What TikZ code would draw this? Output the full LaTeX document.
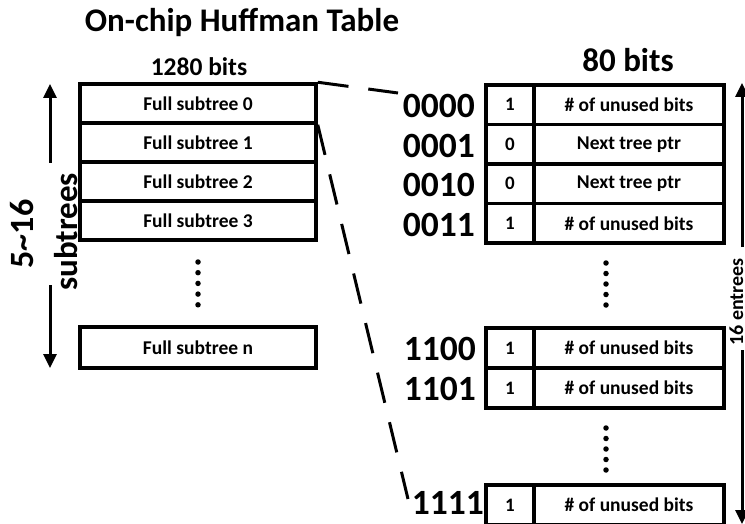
\documentclass[tikz,border=0pt]{standalone}
\usepackage{fontspec}
\setmainfont{Carlito}
\usetikzlibrary{arrows.meta}
\begin{document}
\begin{tikzpicture}[x=1pt,y=-1pt,
  cellbox/.style={draw,line width=3.5pt,inner sep=0pt,font=\bfseries\fontsize{19.5}{20}\selectfont},
  leftbox/.style={cellbox,minimum width=236pt,minimum height=39pt},
  bitcell/.style={cellbox,minimum width=48pt,minimum height=39.5pt,font=\bfseries\fontsize{19}{19}\selectfont},
  txtcell/.style={cellbox,minimum width=190pt,minimum height=39.5pt},
  codelbl/.style={anchor=east,inner sep=0pt,font=\bfseries\fontsize{35.5}{36}\selectfont},
  dotmark/.style={circle,fill=black,inner sep=0pt,minimum size=5.5pt},
  dimarrow/.style={line width=3pt,-{Triangle[width=13pt,length=14pt]}},
  dashline/.style={line width=3pt,dash pattern=on 31pt off 20pt}
]
\useasboundingbox (0,0) rectangle (745,524);

% titles
\node[anchor=base,inner sep=0pt,font=\bfseries\fontsize{33}{33}\selectfont] (title) at (242,32) {On-chip Huffman Table};
\node[anchor=base,inner sep=0pt,font=\bfseries\fontsize{25.5}{26}\selectfont] (lbits) at (199,75.5) {1280 bits};
\node[anchor=base,inner sep=0pt,font=\bfseries\fontsize{33}{33}\selectfont] (rbits) at (628,72) {80 bits};

% left table
\node[leftbox] (b0) at (198,103.5) {Full subtree 0};
\node[leftbox] (b1) at (198,142.5) {Full subtree 1};
\node[leftbox] (b2) at (198,181.5) {Full subtree 2};
\node[leftbox] (b3) at (198,220.5) {Full subtree 3};
\node[leftbox,minimum height=41pt] (bn) at (198,347.5) {Full subtree n};
\foreach \i/\yy in {1/262,2/272.7,3/283.4,4/294.1,5/304.8}
  \node[dotmark] (ld\i) at (198,\yy) {};

% left dimension
\coordinate (lu1) at (50,163);
\coordinate (lu2) at (50,84);
\coordinate (ld1s) at (50,285);
\coordinate (ld2s) at (50,368);
\draw[dimarrow] (lu1) -- (lu2);
\draw[dimarrow] (ld1s) -- (ld2s);
\node[anchor=base,rotate=90,inner sep=0pt,font=\bfseries\fontsize{34}{34}\selectfont] (lcount) at (33,234) {5\textasciitilde16};
\node[anchor=base,rotate=90,inner sep=0pt,font=\bfseries\fontsize{33}{33}\selectfont] (lsub) at (77,232) {subtrees};

% right table
\node[bitcell] (c0a) at (510,104.75) {1};
\node[txtcell] (c0b) at (629,104.75) {\# of unused bits};
\node[bitcell] (c1a) at (510,144.25) {0};
\node[txtcell] (c1b) at (629,144.25) {Next tree ptr};
\node[bitcell] (c2a) at (510,183.75) {0};
\node[txtcell] (c2b) at (629,183.75) {Next tree ptr};
\node[bitcell] (c3a) at (510,223.25) {1};
\node[txtcell] (c3b) at (629,223.25) {\# of unused bits};
\node[bitcell,minimum height=40pt] (c12a) at (510,348) {1};
\node[txtcell,minimum height=40pt] (c12b) at (629,348) {\# of unused bits};
\node[bitcell,minimum height=40pt] (c13a) at (510,388) {1};
\node[txtcell,minimum height=40pt] (c13b) at (629,388) {\# of unused bits};
\node[bitcell,minimum height=40pt] (c15a) at (510,505) {1};
\node[txtcell,minimum height=40pt] (c15b) at (629,505) {\# of unused bits};

\node[codelbl] (k0) at (475,106) {0000};
\node[codelbl] (k1) at (475,145.5) {0001};
\node[codelbl] (k2) at (475,185) {0010};
\node[codelbl] (k3) at (475,224.5) {0011};
\node[codelbl] (k12) at (476,349) {1100};
\node[codelbl] (k13) at (476,389) {1101};
\node[codelbl] (k15) at (484,503) {1111};

\foreach \i/\yy in {1/263,2/273.5,3/284,4/294.5,5/305}
  \node[dotmark] (rda\i) at (606,\yy) {};
\foreach \i/\yy in {1/428,2/438.5,3/449,4/459.5,5/470}
  \node[dotmark] (rdb\i) at (606,\yy) {};

% right dimension
\coordinate (ru1) at (742,247);
\coordinate (ru2) at (742,83);
\coordinate (rd1) at (742,350);
\coordinate (rd2) at (742,524);
\draw[dimarrow] (ru1) -- (ru2);
\draw[dimarrow] (rd1) -- (rd2);
\node[anchor=base,rotate=90,inner sep=0pt,font=\bfseries\fontsize{20}{20}\selectfont] (rcount) at (743,302) {16 entrees};

% dashed connectors
\coordinate (e1) at (398,93);
\coordinate (e2) at (408,499);
\draw[dashline] (b0.north east) -- (e1);
\draw[dashline] (b0.south east) -- (e2);
\end{tikzpicture}
\end{document}
